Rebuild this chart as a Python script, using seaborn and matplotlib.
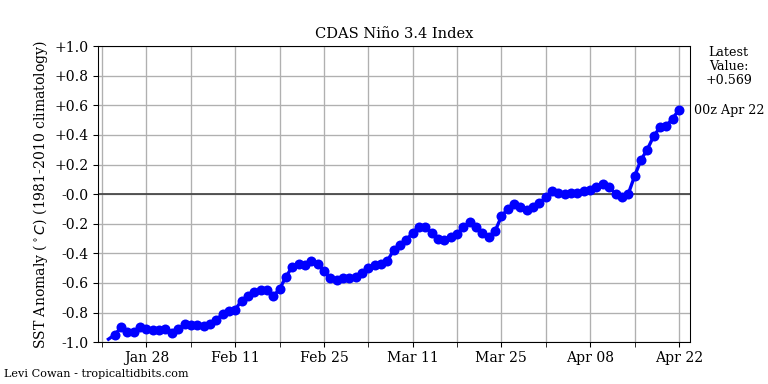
import pandas as pd
import numpy as np
import matplotlib
matplotlib.use("Agg")
import matplotlib.pyplot as plt
import matplotlib.dates as mdates
import seaborn as sns

# Daily CDAS Nino 3.4 anomaly, 22 Jan - 22 Apr 2023
start_date = "2023-01-22"
anomaly = [
    -0.98, -0.95, -0.90, -0.93, -0.93, -0.90, -0.91, -0.92, -0.92, -0.91,
    -0.94, -0.91, -0.88, -0.885, -0.885, -0.89, -0.88, -0.85, -0.81, -0.79,
    -0.78, -0.72, -0.69, -0.66, -0.65, -0.65, -0.69, -0.64, -0.56, -0.49,
    -0.47, -0.48, -0.45, -0.47, -0.52, -0.57, -0.58, -0.57, -0.57, -0.56,
    -0.53, -0.50, -0.48, -0.47, -0.45, -0.38, -0.345, -0.31, -0.26, -0.22,
    -0.22, -0.26, -0.30, -0.31, -0.29, -0.27, -0.22, -0.19, -0.22, -0.26,
    -0.29, -0.25, -0.15, -0.10, -0.07, -0.09, -0.11, -0.09, -0.06, -0.02,
    0.02, 0.01, 0.00, 0.01, 0.01, 0.02, 0.03, 0.05, 0.07, 0.05,
    0.00, -0.02, 0.00, 0.12, 0.23, 0.30, 0.39, 0.45, 0.46, 0.51,
    0.569,
]
y_ticks = [-1.0, -0.8, -0.6, -0.4, -0.2, 0.0, 0.2, 0.4, 0.6, 0.8, 1.0]
y_tick_labels = ["-1.0", "-0.8", "-0.6", "-0.4", "-0.2", "-0.0",
                 "+0.2", "+0.4", "+0.6", "+0.8", "+1.0"]

df = pd.DataFrame({
    "date": pd.date_range(start_date, periods=len(anomaly), freq="D"),
    "anom": anomaly,
})

plt.rcParams["font.family"] = ["DejaVu Serif"]

fig = plt.figure(figsize=(8, 4), dpi=96)
ax = fig.add_axes([0.128, 0.109, 0.77, 0.771])

ax.axhline(0, color="#444444", lw=1.3, zorder=1)
sns.lineplot(data=df, x="date", y="anom", ax=ax, color="blue", lw=2.5,
             marker="o", markersize=7.5, markeredgewidth=0,
             markevery=list(range(1, len(df))), zorder=3)

major = pd.date_range("2023-01-28", "2023-04-22", freq="14D")
minor = pd.date_range("2023-01-21", "2023-04-22", freq="7D")
ax.xaxis.set_major_locator(matplotlib.ticker.FixedLocator(mdates.date2num(major)))
ax.xaxis.set_minor_locator(matplotlib.ticker.FixedLocator(mdates.date2num(minor)))
ax.xaxis.set_major_formatter(mdates.DateFormatter("%b %d"))
ax.tick_params(axis="x", which="minor", length=3.5)
ax.tick_params(axis="both", which="major", labelsize=10.5, length=3.5)

ax.set_xlim(df["date"].iloc[0] - pd.Timedelta(days=1.6),
            df["date"].iloc[-1] + pd.Timedelta(days=1.7))
ax.set_ylim(-1.0, 1.0)
ax.set_yticks(y_ticks)
ax.set_yticklabels(y_tick_labels)

ax.grid(True, which="both", axis="x", color="#b0b0b0", lw=1)
ax.grid(True, which="major", axis="y", color="#b0b0b0", lw=1)
ax.set_axisbelow(True)

ax.set_title("CDAS Ni\u00f1o 3.4 Index", fontsize=11)
ax.set_xlabel("")
ax.set_ylabel(r"SST Anomaly ($^\circ C$) (1981-2010 climatology)", fontsize=10.5)

fig.text(0.949, 0.827, "Latest\nValue:\n%+.3f" % anomaly[-1], ha="center",
         va="center", fontsize=9.5, linespacing=1.1)
fig.text(0.949, 0.711, "00z Apr 22", ha="center", va="center", fontsize=9.5)
fig.text(0.005, 0.018, "Levi Cowan - tropicaltidbits.com", fontsize=8.4)

fig.savefig("out.png", dpi=96)
